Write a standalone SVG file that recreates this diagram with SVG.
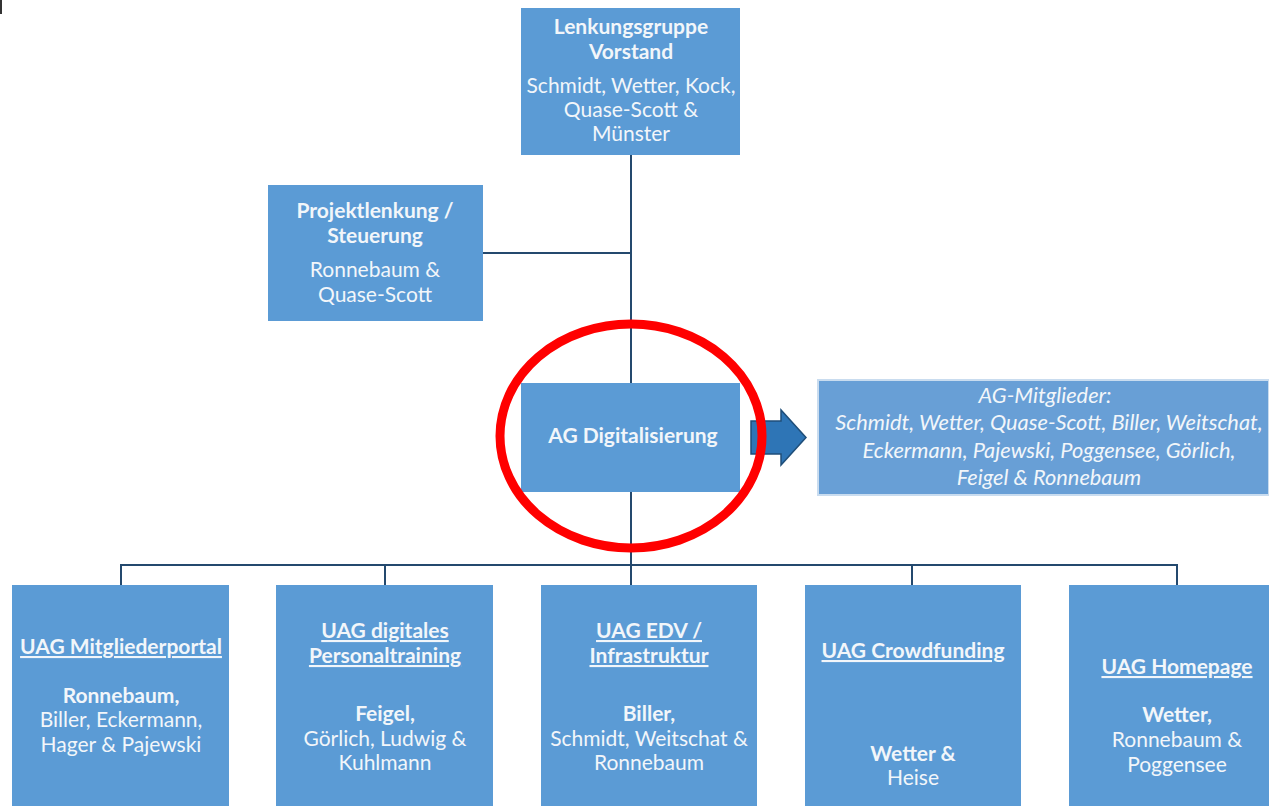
<svg xmlns="http://www.w3.org/2000/svg" width="1269" height="806" viewBox="0 0 1269 806">
<style>
.box{fill:#5b9bd5}
.t{font-family:Lato,"Noto Sans",sans-serif;font-size:21px;fill:#f2f6fa;text-anchor:middle}
.b{font-weight:bold}
.u{text-decoration:underline}
.i{font-style:italic;font-size:21.8px}
.ln{stroke:#24496e;stroke-width:2;fill:none}
</style>
<rect width="1269" height="806" fill="#ffffff"/>
<rect x="0" y="0" width="2" height="14" fill="#333"/>
<g id="connectors">
<path class="ln" d="M631 155V383M483 253H631M631 492V565M121 565H1177M121 564V585M385 564V585M631 564V585M912 564V585M1177 564V585"/>
</g>
<g id="lenkungsgruppe">
<rect class="box" x="521" y="8" width="219" height="147"/>
<text class="t b" x="631" y="34">Lenkungsgruppe</text>
<text class="t b" x="631" y="59">Vorstand</text>
<text class="t" x="631" y="93">Schmidt, Wetter, Kock,</text>
<text class="t" x="631" y="117">Quase-Scott &amp;</text>
<text class="t" x="631" y="141">Münster</text>
</g>
<g id="projektlenkung">
<rect class="box" x="268" y="185" width="215" height="136"/>
<text class="t b" x="375" y="218">Projektlenkung /</text>
<text class="t b" x="375" y="243">Steuerung</text>
<text class="t" x="375" y="277">Ronnebaum &amp;</text>
<text class="t" x="375" y="302">Quase-Scott</text>
</g>
<g id="ag-digitalisierung">
<rect class="box" x="521" y="383" width="219" height="109"/>
<text class="t b" x="633" y="443">AG Digitalisierung</text>
</g>
<g id="arrow">
<path d="M751 421H781V410L806 437.5L781 465V454H751Z" fill="#2e75b6" stroke="#1f4e79" stroke-width="1.5"/>
</g>
<g id="ag-mitglieder">
<rect x="818" y="380" width="451" height="115" fill="#689fd6" stroke="#c9dcef" stroke-width="2"/>
<text class="t i" x="1045" y="403">AG-Mitglieder:</text>
<text class="t i" x="1049" y="430">Schmidt, Wetter, Quase-Scott, Biller, Weitschat,</text>
<text class="t i" x="1049" y="458">Eckermann, Pajewski, Poggensee, Görlich,</text>
<text class="t i" x="1049" y="485">Feigel &amp; Ronnebaum</text>
</g>
<g id="uag-mitgliederportal">
<rect class="box" x="12" y="585" width="217" height="221"/>
<text class="t b u" x="121" y="654">UAG Mitgliederportal</text>
<text class="t b" x="121" y="703">Ronnebaum,</text>
<text class="t" x="121" y="727">Biller, Eckermann,</text>
<text class="t" x="121" y="752">Hager &amp; Pajewski</text>
</g>
<g id="uag-personaltraining">
<rect class="box" x="276" y="585" width="217" height="221"/>
<text class="t b u" x="385" y="638">UAG digitales</text>
<text class="t b u" x="385" y="663">Personaltraining</text>
<text class="t b" x="385" y="721">Feigel,</text>
<text class="t" x="385" y="746">Görlich, Ludwig &amp;</text>
<text class="t" x="385" y="770">Kuhlmann</text>
</g>
<g id="uag-edv">
<rect class="box" x="541" y="585" width="216" height="221"/>
<text class="t b u" x="649" y="638">UAG EDV /</text>
<text class="t b u" x="649" y="663">Infrastruktur</text>
<text class="t b" x="649" y="721">Biller,</text>
<text class="t" x="649" y="746">Schmidt, Weitschat &amp;</text>
<text class="t" x="649" y="770">Ronnebaum</text>
</g>
<g id="uag-crowdfunding">
<rect class="box" x="805" y="585" width="216" height="221"/>
<text class="t b u" x="913" y="658">UAG Crowdfunding</text>
<text class="t b" x="913" y="761">Wetter &amp;</text>
<text class="t" x="913" y="785">Heise</text>
</g>
<g id="uag-homepage">
<rect class="box" x="1069" y="585" width="200" height="221"/>
<text class="t b u" x="1177" y="674">UAG Homepage</text>
<text class="t b" x="1177" y="722">Wetter,</text>
<text class="t" x="1177" y="747">Ronnebaum &amp;</text>
<text class="t" x="1177" y="772">Poggensee</text>
</g>
<ellipse cx="631" cy="436" rx="131" ry="112" fill="none" stroke="#ff0000" stroke-width="9"/>
</svg>
